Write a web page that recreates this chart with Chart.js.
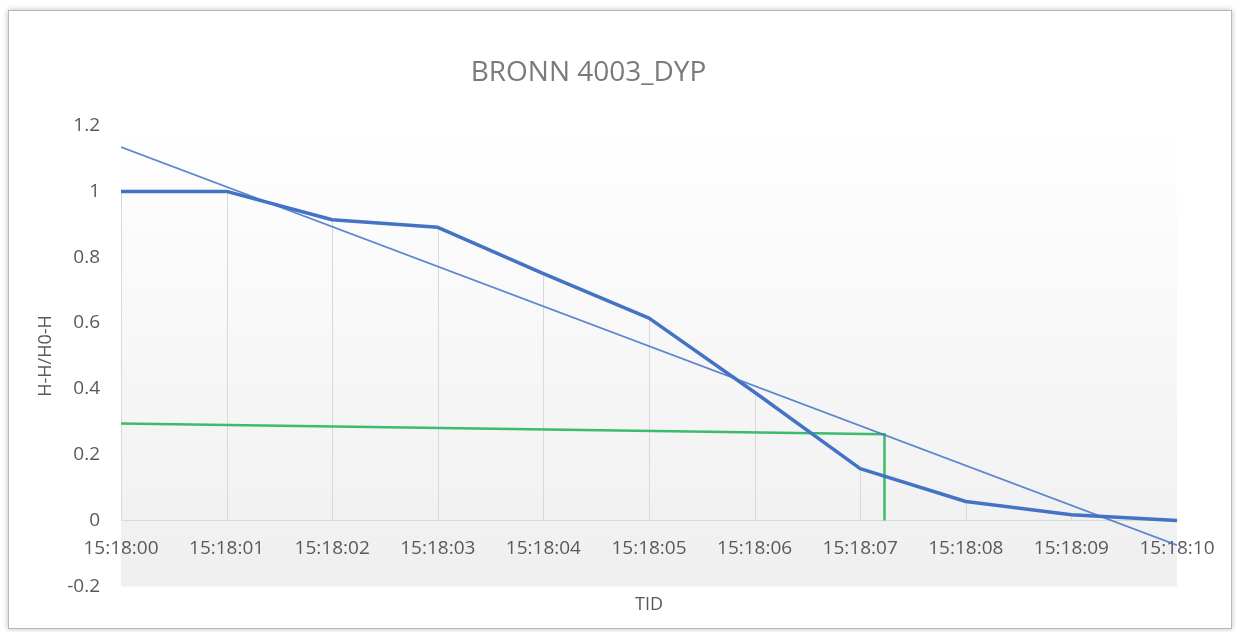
<!DOCTYPE html>
<html>
<head>
<meta charset="utf-8">
<title>BRONN 4003_DYP</title>
<script src="https://cdn.jsdelivr.net/npm/chart.js@4.4.1/dist/chart.umd.min.js"></script>
<style>
    html, body { margin: 0; padding: 0; background: #ffffff; }
    #wrap { width: 1236px; height: 632px; }
</style>
</head>
<body>
<div id="wrap"><canvas id="dypChart" width="1236" height="632"></canvas></div>
<script>
// tick labels and values
const timeLabels = ["15:18:00", "15:18:01", "15:18:02", "15:18:03", "15:18:04", "15:18:05",
                    "15:18:06", "15:18:07", "15:18:08", "15:18:09", "15:18:10"];
const seconds = [0, 1, 2, 3, 4, 5, 6, 7, 8, 9, 10];
const levelValues = [1.0, 1.0, 0.914, 0.891, 0.75, 0.615, 0.39, 0.158, 0.058, 0.018, 0.0];

// linear trend line (end points)
const trendX = [0, 10];
const trendY = [1.135, -0.075];

// green helper line
const markX = [0, 7.23, 7.23];
const markY = [0.295, 0.262, 0.0];

const yTicks = [-0.2, 0, 0.2, 0.4, 0.6, 0.8, 1.0, 1.2];

const FONT = "'Open Sans', 'Noto Sans', sans-serif";
const TEXT_GREY = "#595959";

document.addEventListener("DOMContentLoaded", function () {
    const ctx = document.getElementById("dypChart");

    const toPoints = (xs, ys) => xs.map((x, i) => ({ x: x, y: ys[i] }));

    // outer frame of the chart object
    const framePlugin = {
        id: "frame",
        beforeDraw(chart) {
            const c = chart.ctx;
            c.save();
            c.fillStyle = "#ffffff";
            c.fillRect(0, 0, chart.width, chart.height);
            c.shadowColor = "rgba(0,0,0,0.25)";
            c.shadowBlur = 6;
            c.strokeStyle = "#b8b8b8";
            c.lineWidth = 1;
            c.fillRect(8, 10, 1224, 619);
            c.shadowBlur = 0;
            c.strokeRect(8.5, 10.5, 1223, 618);
            c.restore();

            // plot area gradient
            const a = chart.chartArea;
            const g = c.createLinearGradient(0, a.top, 0, a.bottom);
            g.addColorStop(0, "#ffffff");
            g.addColorStop(1, "#efefef");
            c.save();
            c.fillStyle = g;
            c.fillRect(a.left, a.top, a.right - a.left, a.bottom - a.top);
            c.restore();
        }
    };

    // grey drop lines from each point down to zero
    const dropLines = {
        id: "dropLines",
        beforeDatasetsDraw(chart) {
            const xs = chart.scales.x, ys = chart.scales.y;
            const c = chart.ctx;
            c.save();
            c.strokeStyle = "#d9d9d9";
            c.lineWidth = 1;
            seconds.forEach((s, i) => {
                const px = Math.round(xs.getPixelForValue(s)) + 0.5;
                c.beginPath();
                c.moveTo(px, ys.getPixelForValue(levelValues[i]));
                c.lineTo(px, ys.getPixelForValue(0));
                c.stroke();
            });
            c.restore();
        }
    };

    new Chart(ctx, {
        type: "line",
        data: {
            datasets: [
                {
                    label: "H-H/H0-H",
                    data: toPoints(seconds, levelValues),
                    borderColor: "#4472c4",
                    borderWidth: 3.5,
                    pointRadius: 0,
                    borderJoinStyle: "round",
                    xAxisID: "x",
                    order: 1
                },
                {
                    label: "Trend",
                    data: toPoints(trendX, trendY),
                    borderColor: "rgba(68,114,196,0.85)",
                    borderWidth: 1.8,
                    pointRadius: 0,
                    xAxisID: "x",
                    order: 0
                },
                {
                    label: "Mark",
                    data: toPoints(markX, markY),
                    borderColor: "#3dbb6c",
                    borderWidth: 2.5,
                    pointRadius: 0,
                    xAxisID: "x",
                    order: 2
                }
            ]
        },
        options: {
            responsive: false,
            animation: false,
            layout: { padding: { left: 0, right: 59, top: 0, bottom: 16 } },
            plugins: {
                legend: { display: false },
                tooltip: { enabled: false },
                title: {
                    display: true,
                    text: "BRONN 4003_DYP",
                    color: "#7a7a7a",
                    font: { family: FONT, size: 28, weight: "normal" },
                    padding: { top: 56, bottom: 36 }
                }
            },
            scales: {
                x: {
                    type: "linear",
                    position: { y: 0 },
                    min: 0,
                    max: 10,
                    afterBuildTicks: (axis) => { axis.ticks = seconds.map(v => ({ value: v })); },
                    ticks: {
                        color: TEXT_GREY,
                        font: { family: FONT, size: 19 },
                        padding: 17,
                        maxRotation: 0,
                        autoSkip: false,
                        callback: (v) => timeLabels[seconds.indexOf(v)]
                    },
                    grid: { display: false, drawTicks: false },
                    border: { display: true, color: "#d9d9d9", width: 1 }
                },
                xb: {
                    type: "linear",
                    position: "bottom",
                    min: 0,
                    max: 10,
                    ticks: { display: false },
                    grid: { display: false },
                    border: { display: false },
                    title: {
                        display: true,
                        text: "TID",
                        color: TEXT_GREY,
                        font: { family: FONT, size: 18 },
                        padding: { top: 0, bottom: 0 }
                    }
                },
                y: {
                    min: -0.2,
                    max: 1.2,
                    afterBuildTicks: (axis) => { axis.ticks = yTicks.map(v => ({ value: v })); },
                    afterFit: (axis) => { axis.width = 121; },
                    ticks: {
                        color: TEXT_GREY,
                        font: { family: FONT, size: 19 },
                        padding: 21,
                        callback: (v) => String(Math.round(v * 10) / 10)
                    },
                    grid: { display: false, drawTicks: false },
                    border: { display: false },
                    title: {
                        display: true,
                        text: "H-H/H0-H",
                        color: TEXT_GREY,
                        font: { family: FONT, size: 18 },
                        padding: { top: 35, bottom: 0 }
                    }
                }
            }
        },
        plugins: [framePlugin, dropLines]
    });
});
</script>
</body>
</html>
